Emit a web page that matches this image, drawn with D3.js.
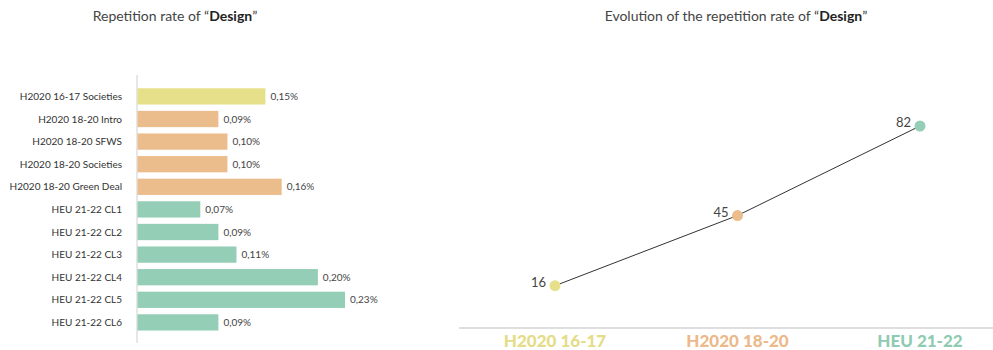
<!DOCTYPE html>
<html>
<head>
<meta charset="utf-8">
<script src="https://cdn.jsdelivr.net/npm/d3@7"></script>
<style>
  html, body { margin: 0; padding: 0; background: #fff; }
  svg { display: block; font-family: Lato, "Open Sans", sans-serif; }
</style>
</head>
<body>
<svg id="chart" width="993" height="350"></svg>
<script>
// ---- data ----
const barCategories = [
  "H2020 16-17 Societies",
  "H2020 18-20 Intro",
  "H2020 18-20 SFWS",
  "H2020 18-20 Societies",
  "H2020 18-20 Green Deal",
  "HEU 21-22 CL1",
  "HEU 21-22 CL2",
  "HEU 21-22 CL3",
  "HEU 21-22 CL4",
  "HEU 21-22 CL5",
  "HEU 21-22 CL6"
];
const barGroups = ["p1", "p2", "p2", "p2", "p2", "p3", "p3", "p3", "p3", "p3", "p3"];
const barValues = [0.142, 0.09, 0.10, 0.10, 0.16, 0.07, 0.09, 0.11, 0.20, 0.23, 0.09];
const barValueLabels = ["0,15%", "0,09%", "0,10%", "0,10%", "0,16%", "0,07%", "0,09%", "0,11%", "0,20%", "0,23%", "0,09%"];

const periods = ["H2020 16-17", "H2020 18-20", "HEU 21-22"];
const periodGroups = ["p1", "p2", "p3"];
const periodCounts = [16, 45, 82];

const groupColors = { p1: "#e6e08b", p2: "#ecbd8c", p3: "#94ceb6" };
const labelColors = { p1: "#e4dc86", p2: "#ebb98a", p3: "#8fcbb2" };

const svg = d3.select("#chart");

// ---- titles ----
function title(x, pre) {
  const t = svg.append("text")
    .attr("x", x).attr("y", 21)
    .attr("text-anchor", "middle")
    .attr("font-size", 14)
    .attr("fill", "#444");
  t.append("tspan").text(pre + "\u201C");
  t.append("tspan").attr("font-weight", 700).attr("fill", "#222").text("Design");
  t.append("tspan").text("\u201D");
}
title(175, "Repetition rate of ");
title(736, "Evolution of the repetition rate of ");

// ---- left bar chart ----
const x = d3.scaleLinear().domain([0, 0.23]).range([137, 345]);
const y = d3.scaleBand().domain(barCategories).range([85.1, 333.7])
  .paddingInner(0.28).paddingOuter(0.14);

svg.append("line")
  .attr("x1", x(0)).attr("x2", x(0))
  .attr("y1", 75).attr("y2", 343)
  .attr("stroke", "#cfcfcf").attr("stroke-width", 1);

const rows = svg.append("g").selectAll("g").data(barCategories).join("g");

rows.append("rect")
  .attr("x", x(0) + 0.5)
  .attr("y", d => y(d))
  .attr("width", (d, i) => x(barValues[i]) - x(0) - 0.5)
  .attr("height", y.bandwidth())
  .attr("fill", (d, i) => groupColors[barGroups[i]]);

rows.append("text")
  .attr("x", 122)
  .attr("y", d => y(d) + y.bandwidth() / 2)
  .attr("dy", "0.35em")
  .attr("text-anchor", "end")
  .attr("font-size", 10)
  .attr("fill", "#333")
  .text(d => d);

rows.append("text")
  .attr("x", (d, i) => x(barValues[i]) + 5)
  .attr("y", d => y(d) + y.bandwidth() / 2)
  .attr("dy", "0.35em")
  .attr("font-size", 10)
  .attr("fill", "#444")
  .text((d, i) => barValueLabels[i]);

// ---- right line chart ----
const px = d3.scalePoint().domain(periods).range([555, 920]);
const py = d3.scaleLinear().domain([0, 82]).range([324.4, 126]);

svg.append("line")
  .attr("x1", 459).attr("x2", 993)
  .attr("y1", 328).attr("y2", 328)
  .attr("stroke", "#d4d4d4").attr("stroke-width", 1.5);

const line = d3.line()
  .x((d, i) => px(periods[i]))
  .y(d => py(d));

svg.append("path")
  .datum(periodCounts)
  .attr("d", line)
  .attr("fill", "none")
  .attr("stroke", "#333")
  .attr("stroke-width", 1);

svg.append("g").selectAll("circle").data(periods).join("circle")
  .attr("cx", d => px(d))
  .attr("cy", (d, i) => py(periodCounts[i]))
  .attr("r", 5.5)
  .attr("fill", (d, i) => groupColors[periodGroups[i]]);

svg.append("g").selectAll("text").data(periods).join("text")
  .attr("x", d => px(d) - 9)
  .attr("y", (d, i) => py(periodCounts[i]) + 1)
  .attr("text-anchor", "end")
  .attr("font-size", 13)
  .attr("fill", "#444")
  .text((d, i) => periodCounts[i]);

svg.append("g").selectAll("text").data(periods).join("text")
  .attr("x", d => px(d))
  .attr("y", 347)
  .attr("text-anchor", "middle")
  .attr("font-size", 17)
  .attr("font-weight", 900)
  .attr("fill", (d, i) => labelColors[periodGroups[i]])
  .text(d => d);
</script>
</body>
</html>
